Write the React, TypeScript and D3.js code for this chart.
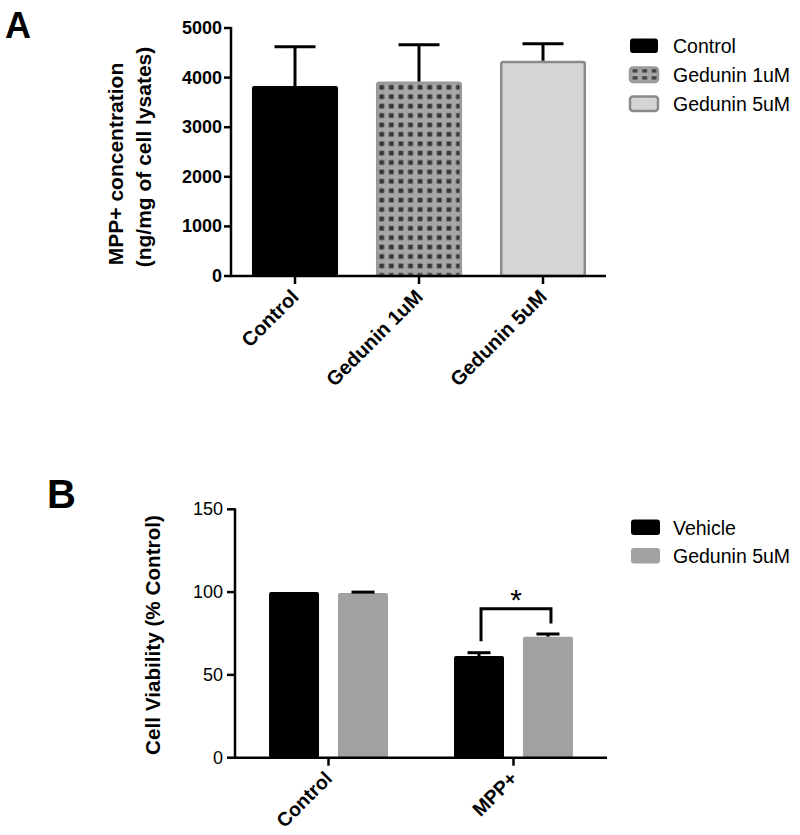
import React from "react";
import * as d3 from "d3";

// ---------- Panel A data ----------
const aCategories = ["Control", "Gedunin 1uM", "Gedunin 5uM"];
const aMeans = [3830, 3920, 4340];
const aErrors = [790, 740, 340];
const aTicks = [0, 1000, 2000, 3000, 4000, 5000];

// ---------- Panel B data ----------
const bGroups = ["Control", "MPP+"];
const bSeries = ["Vehicle", "Gedunin 5uM"];
const bVehicle = [100, 61.4];
const bVehicleErr = [0, 2.0];
const bGedunin = [99.4, 73.1];
const bGeduninErr = [0.6, 1.6];
const bTicks = [0, 50, 100, 150];

const FONT = "'Liberation Sans', Arial, Helvetica, sans-serif";

export default function App() {
  // Panel A scales
  const ayA = d3.scaleLinear().domain([0, 5000]).range([276, 28]);
  const axA = d3
    .scaleBand<string>()
    .domain(aCategories)
    .range([233, 605])
    .paddingInner(0.306)
    .paddingOuter(0.153);
  const bwA = axA.bandwidth();

  const aFills = ["#000000", "url(#gridPat)", "#d5d5d5"];
  const aStrokes = ["#000000", "#9a9a9a", "#8a8a8a"];
  const aLegendFills = ["#000000", "url(#legPat)", "#d5d5d5"];

  // Panel B scales
  const yB = d3.scaleLinear().domain([0, 150]).range([757.7, 509.3]);
  const xB = d3
    .scaleBand<string>()
    .domain(bGroups)
    .range([235, 607])
    .paddingInner(0.357)
    .paddingOuter(0.184);
  const xBi = d3
    .scaleBand<string>()
    .domain(bSeries)
    .range([0, xB.bandwidth()])
    .paddingInner(0.275);
  const bColors = ["#000000", "#a1a1a4"];
  const bData = [
    { means: bVehicle, errs: bVehicleErr },
    { means: bGedunin, errs: bGeduninErr },
  ];

  const mppX = xB("MPP+")!;
  const bracketL = mppX + xBi("Vehicle")! + xBi.bandwidth() / 2 + 2;
  const bracketR = mppX + xBi("Gedunin 5uM")! + xBi.bandwidth() / 2 + 3;

  return (
    <svg
      width={800}
      height={835}
      style={{ position: "absolute", left: 0, top: 0, background: "#fff" }}
      fontFamily={FONT}
    >
      <defs>
        <pattern id="gridPat" patternUnits="userSpaceOnUse" x={376.8} y={82.5} width={9.6} height={9.4}>
          <rect width={9.6} height={9.4} fill="#a7a7a7" />
          <rect x={2.5} y={2.5} width={4.8} height={4.6} fill="#363636" />
        </pattern>
        <pattern id="legPat" patternUnits="userSpaceOnUse" x={631} y={68} width={9.6} height={7}>
          <rect width={9.6} height={7} fill="#a7a7a7" />
          <rect x={1.5} y={1.2} width={5} height={3.4} fill="#444" />
        </pattern>
      </defs>

      {/* ================= Panel A ================= */}
      <text x={5} y={38} fontSize={36} fontWeight="bold">A</text>

      {/* bars */}
      {aCategories.map((c, i) => {
        const x = axA(c)!;
        const y = ayA(aMeans[i]);
        const sw = i === 0 ? 0 : 2.5;
        return (
          <rect
            key={c}
            x={x + sw / 2}
            y={y + sw / 2}
            width={bwA - sw}
            height={ayA(0) - y - sw / 2}
            rx={2}
            fill={aFills[i]}
            stroke={i === 0 ? "none" : aStrokes[i]}
            strokeWidth={sw}
          />
        );
      })}
      {/* error bars */}
      {aCategories.map((c, i) => {
        const cx = axA(c)! + bwA / 2;
        const yt = ayA(aMeans[i] + aErrors[i]);
        return (
          <g key={c} stroke="#000" strokeWidth={3}>
            <line x1={cx} x2={cx} y1={ayA(aMeans[i])} y2={yt} />
            <line x1={cx - 20.5} x2={cx + 20.5} y1={yt} y2={yt} />
          </g>
        );
      })}

      {/* axes */}
      <line x1={231} x2={231} y1={ayA(5000) - 1} y2={ayA(0) + 1} stroke="#000" strokeWidth={2.5} />
      <line x1={230} x2={606} y1={ayA(0)} y2={ayA(0)} stroke="#000" strokeWidth={2.5} />
      {aTicks.map((t) => (
        <g key={t}>
          <line x1={224} x2={231} y1={ayA(t)} y2={ayA(t)} stroke="#000" strokeWidth={2.5} />
          <text
            x={222}
            y={ayA(t)}
            textAnchor="end"
            dominantBaseline="central"
            fontSize={18}
            fontWeight="bold"
          >
            {t}
          </text>
        </g>
      ))}
      {aCategories.map((c) => {
        const cx = axA(c)! + bwA / 2;
        return (
          <g key={c}>
            <line x1={cx} x2={cx} y1={ayA(0)} y2={ayA(0) + 8} stroke="#000" strokeWidth={2.5} />
            <text
              transform={`translate(${cx},${ayA(0) + 17}) rotate(-45)`}
              textAnchor="end"
              dominantBaseline="central"
              fontSize={20}
              fontWeight="bold"
            >
              {c}
            </text>
          </g>
        );
      })}
      <text transform="translate(123,164) rotate(-90)" textAnchor="middle" fontSize={21} fontWeight="bold">
        MPP+ concentration
      </text>
      <text transform="translate(151,157) rotate(-90)" textAnchor="middle" fontSize={21} fontWeight="bold">
        (ng/mg of cell lysates)
      </text>

      {/* legend A */}
      {aCategories.map((c, i) => (
        <g key={c}>
          <rect
            x={630}
            y={38.5 + i * 29}
            width={28}
            height={14.5}
            rx={3}
            fill={aLegendFills[i]}
            stroke={i === 0 ? "none" : aStrokes[i]}
            strokeWidth={i === 0 ? 0 : 2.5}
          />
          <text x={673} y={46 + i * 29} dominantBaseline="central" fontSize={19.5}>
            {c}
          </text>
        </g>
      ))}

      {/* ================= Panel B ================= */}
      <text x={47} y={508} fontSize={40} fontWeight="bold">B</text>

      {bGroups.map((g, gi) => (
        <g key={g}>
          {bSeries.map((s, si) => {
            const x = xB(g)! + xBi(s)!;
            const v = bData[si].means[gi];
            const e = bData[si].errs[gi];
            const cx = x + xBi.bandwidth() / 2;
            return (
              <g key={s}>
                <rect
                  x={x}
                  y={yB(v)}
                  width={xBi.bandwidth()}
                  height={yB(0) - yB(v)}
                  rx={2}
                  fill={bColors[si]}
                />
                {e > 0 && (
                  <g stroke="#000" strokeWidth={3}>
                    <line x1={cx} x2={cx} y1={yB(v)} y2={yB(v + e)} />
                    <line x1={cx - 11.5} x2={cx + 11.5} y1={yB(v + e)} y2={yB(v + e)} />
                  </g>
                )}
              </g>
            );
          })}
        </g>
      ))}

      {/* significance bracket */}
      <path
        d={`M${bracketL},${yB(74.5) + 7} V${yB(90)} H${bracketR} V${yB(81)}`}
        fill="none"
        stroke="#000"
        strokeWidth={3}
      />
      <text x={(bracketL + bracketR) / 2} y={610} textAnchor="middle" fontSize={30}>
        *
      </text>

      {/* axes B */}
      <line x1={235} x2={235} y1={yB(150) - 1} y2={yB(0) + 1} stroke="#000" strokeWidth={2.5} />
      <line x1={234} x2={607} y1={yB(0)} y2={yB(0)} stroke="#000" strokeWidth={2.5} />
      {bTicks.map((t) => (
        <g key={t}>
          <line x1={227} x2={235} y1={yB(t)} y2={yB(t)} stroke="#000" strokeWidth={2.5} />
          <text x={223} y={yB(t)} textAnchor="end" dominantBaseline="central" fontSize={18}>
            {t}
          </text>
        </g>
      ))}
      {bGroups.map((g) => {
        const cx = xB(g)! + xB.bandwidth() / 2;
        return (
          <g key={g}>
            <line x1={cx} x2={cx} y1={yB(0)} y2={yB(0) + 8} stroke="#000" strokeWidth={2.5} />
            <text
              transform={`translate(${cx},${yB(0) + 17}) rotate(-45)`}
              textAnchor="end"
              dominantBaseline="central"
              fontSize={19.5}
              fontWeight="bold"
            >
              {g}
            </text>
          </g>
        );
      })}
      <text transform="translate(160,635) rotate(-90)" textAnchor="middle" fontSize={20.7} fontWeight="bold">
        Cell Viability (% Control)
      </text>

      {/* legend B */}
      {bSeries.map((s, i) => (
        <g key={s}>
          <rect x={631} y={519.5 + i * 28.5} width={29} height={15.5} rx={3} fill={bColors[i]} />
          <text x={673} y={527.5 + i * 28.5} dominantBaseline="central" fontSize={19.5}>
            {s}
          </text>
        </g>
      ))}
    </svg>
  );
}
